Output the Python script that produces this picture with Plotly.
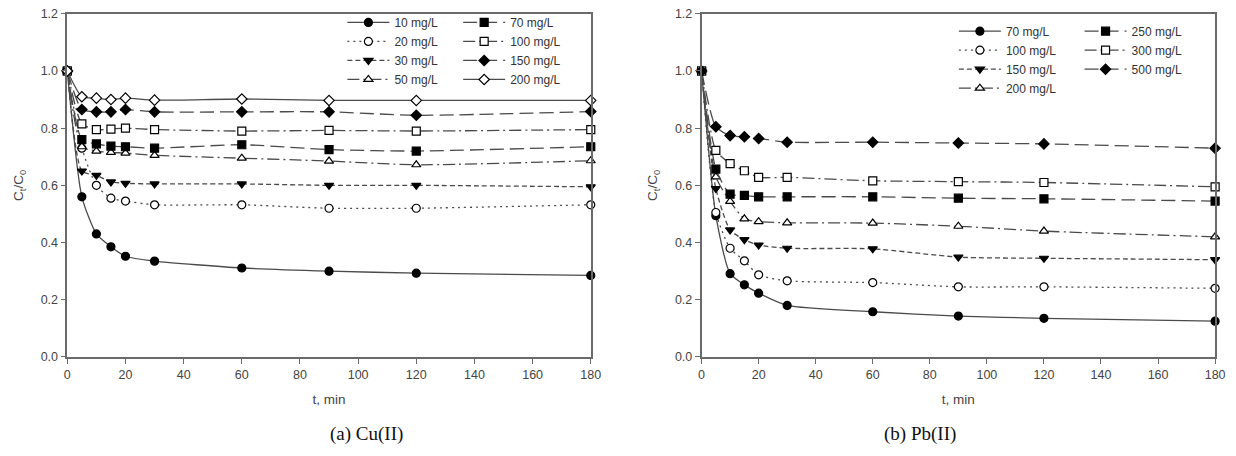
import plotly.graph_objects as go

t = [0, 5, 10, 15, 20, 30, 60, 90, 120, 180]

cu_labels = ["10 mg/L", "20 mg/L", "30 mg/L", "50 mg/L", "70 mg/L", "100 mg/L", "150 mg/L", "200 mg/L"]
cu_10 = [1.0, 0.56, 0.43, 0.385, 0.352, 0.335, 0.311, 0.300, 0.293, 0.285]
cu_20 = [1.0, 0.73, 0.60, 0.555, 0.545, 0.532, 0.532, 0.520, 0.520, 0.532]
cu_30 = [1.0, 0.65, 0.635, 0.612, 0.607, 0.605, 0.605, 0.600, 0.600, 0.595]
cu_50 = [1.0, 0.735, 0.72, 0.715, 0.713, 0.705, 0.695, 0.685, 0.672, 0.686]
cu_70 = [1.0, 0.76, 0.745, 0.737, 0.735, 0.730, 0.742, 0.725, 0.720, 0.735]
cu_100 = [1.0, 0.815, 0.795, 0.797, 0.800, 0.795, 0.790, 0.792, 0.790, 0.795]
cu_150 = [1.0, 0.865, 0.857, 0.857, 0.865, 0.857, 0.857, 0.857, 0.845, 0.858]
cu_200 = [1.0, 0.910, 0.905, 0.900, 0.905, 0.898, 0.902, 0.897, 0.897, 0.897]

pb_labels = ["70 mg/L", "100 mg/L", "150 mg/L", "200 mg/L", "250 mg/L", "300 mg/L", "500 mg/L"]
pb_70 = [1.0, 0.494, 0.291, 0.252, 0.223, 0.180, 0.158, 0.143, 0.135, 0.125]
pb_100 = [1.0, 0.505, 0.380, 0.336, 0.287, 0.266, 0.260, 0.245, 0.245, 0.240]
pb_150 = [1.0, 0.589, 0.444, 0.410, 0.391, 0.380, 0.378, 0.349, 0.345, 0.340]
pb_200 = [1.0, 0.630, 0.544, 0.483, 0.473, 0.469, 0.468, 0.457, 0.440, 0.420]
pb_250 = [1.0, 0.657, 0.569, 0.565, 0.560, 0.560, 0.560, 0.555, 0.553, 0.545]
pb_300 = [1.0, 0.722, 0.676, 0.651, 0.628, 0.628, 0.616, 0.613, 0.610, 0.595]
pb_500 = [1.0, 0.805, 0.774, 0.770, 0.764, 0.751, 0.751, 0.748, 0.745, 0.730]

LINE = "#4a4a4a"
FONT = "Liberation Sans, Arial, sans-serif"

fig = go.Figure()

def add(x, y, name, symbol, filled, dash, xa, ya, legend):
    fig.add_trace(go.Scatter(
        x=x, y=y, name=name, mode="lines+markers",
        line=dict(color=LINE, width=1.3, dash=dash, shape="spline", smoothing=0.6),
        marker=dict(symbol=symbol, size=8,
                    color="black" if filled else "white",
                    line=dict(color="black", width=1.2)),
        xaxis=xa, yaxis=ya, legend=legend, cliponaxis=False,
    ))

# Cu(II)
add(t, cu_10, cu_labels[0], "circle", True, "solid", "x", "y", "legend")
add(t, cu_20, cu_labels[1], "circle", False, "2px,4px", "x", "y", "legend")
add(t, cu_30, cu_labels[2], "triangle-down", True, "5px,3px", "x", "y", "legend")
add(t, cu_50, cu_labels[3], "triangle-up", False, "12px,4px,2px,4px", "x", "y", "legend")
add(t, cu_70, cu_labels[4], "square", True, "14px,6px", "x", "y", "legend2")
add(t, cu_100, cu_labels[5], "square", False, "12px,4px,2px,4px", "x", "y", "legend2")
add(t, cu_150, cu_labels[6], "diamond", True, "14px,6px", "x", "y", "legend2")
add(t, cu_200, cu_labels[7], "diamond", False, "solid", "x", "y", "legend2")

# Pb(II)
add(t, pb_70, pb_labels[0], "circle", True, "solid", "x2", "y2", "legend3")
add(t, pb_100, pb_labels[1], "circle", False, "2px,4px", "x2", "y2", "legend3")
add(t, pb_150, pb_labels[2], "triangle-down", True, "5px,3px", "x2", "y2", "legend3")
add(t, pb_200, pb_labels[3], "triangle-up", False, "12px,4px,2px,4px", "x2", "y2", "legend3")
add(t, pb_250, pb_labels[4], "square", True, "14px,6px", "x2", "y2", "legend4")
add(t, pb_300, pb_labels[5], "square", False, "12px,4px,2px,4px", "x2", "y2", "legend4")
add(t, pb_500, pb_labels[6], "diamond", True, "14px,6px", "x2", "y2", "legend4")

W, H = 1236, 456
def px(x): return x / W
def py(y): return 1 - y / H

axis_common = dict(
    showline=True, linecolor="#6a6a6a", linewidth=1.5, mirror=True,
    ticks="outside", ticklen=5, tickcolor="#6a6a6a", tickwidth=1,
    showgrid=False, zeroline=False,
    tickfont=dict(family=FONT, size=12.5, color="#444"),
)
xa = dict(axis_common, range=[0, 180], tickvals=[0, 20, 40, 60, 80, 100, 120, 140, 160, 180],
          title=dict(text="t, min", font=dict(family=FONT, size=13.5, color="#444"), standoff=14))
ya = dict(axis_common, range=[0, 1.2], tickvals=[0, 0.2, 0.4, 0.6, 0.8, 1.0, 1.2], tickformat=".1f",
          title=dict(text="C<sub>t</sub>/C<sub>0</sub>", font=dict(family=FONT, size=13.5, color="#444"), standoff=14))

leg_common = dict(font=dict(family=FONT, size=12, color="#333"), bgcolor="rgba(0,0,0,0)",
                  xanchor="left", yanchor="top", itemwidth=42, tracegroupgap=0)

fig.update_layout(
    width=W, height=H, margin=dict(l=0, r=0, t=0, b=0),
    paper_bgcolor="white", plot_bgcolor="white",
    xaxis=dict(xa, domain=[px(65), px(594)], anchor="y"),
    yaxis=dict(ya, domain=[py(361), py(7)], anchor="x"),
    xaxis2=dict(xa, domain=[px(706), px(1225)], anchor="y2"),
    yaxis2=dict(ya, domain=[py(361), py(7)], anchor="x2"),
    legend=dict(leg_common, x=px(343), y=py(1)),
    legend2=dict(leg_common, x=px(460), y=py(1)),
    legend3=dict(leg_common, x=px(961), y=py(10)),
    legend4=dict(leg_common, x=px(1088), y=py(10)),
    annotations=[
        dict(text="(a) Cu(II)", x=px(328), y=py(441), xref="paper", yref="paper", yanchor="middle",
             showarrow=False, font=dict(family="Liberation Serif, Times New Roman, serif", size=19, color="#111")),
        dict(text="(b) Pb(II)", x=px(965), y=py(441), xref="paper", yref="paper", yanchor="middle",
             showarrow=False, font=dict(family="Liberation Serif, Times New Roman, serif", size=19, color="#111")),
    ],
)

fig.write_html("out.html")
